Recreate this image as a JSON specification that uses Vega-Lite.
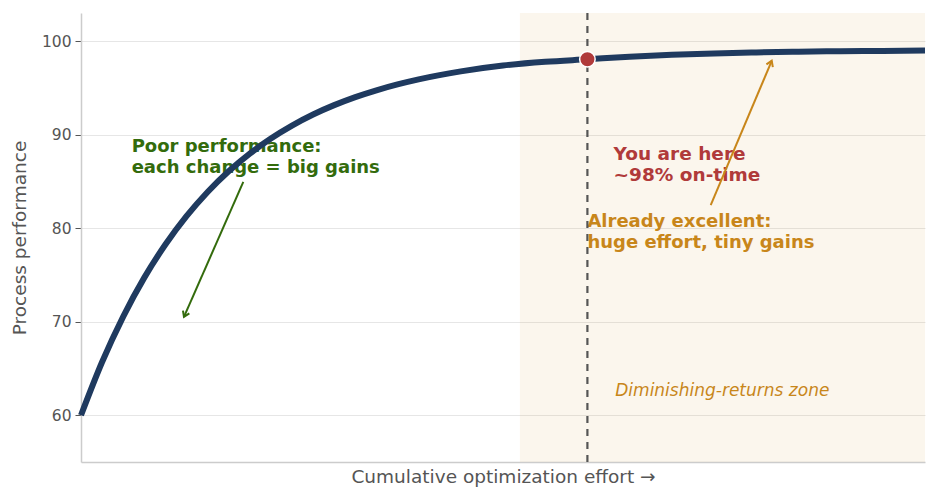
{
  "$schema": "https://vega.github.io/schema/vega-lite/v6.json",
  "width": 844,
  "height": 449,
  "autosize": {"type": "none"},
  "padding": {"left": 81, "top": 13, "right": 13, "bottom": 38},
  "background": "white",
  "config": {
    "font": "DejaVu Sans",
    "view": {"stroke": null},
    "axis": {
      "labelFont": "DejaVu Sans",
      "titleFont": "DejaVu Sans",
      "labelColor": "#555555",
      "titleColor": "#555555",
      "titleFontWeight": "normal",
      "domainColor": "#cccccc",
      "domainWidth": 1.5,
      "tickColor": "#555555",
      "gridColor": "#e6e6e6",
      "gridWidth": 1
    }
  },
  "datasets": {
    "curve": [
      {"effort": 0, "performance": 60.0},
      {"effort": 0.25, "performance": 65.69},
      {"effort": 0.5, "performance": 70.55},
      {"effort": 0.75, "performance": 74.71},
      {"effort": 1.0, "performance": 78.25},
      {"effort": 1.25, "performance": 81.28},
      {"effort": 1.5, "performance": 83.87},
      {"effort": 1.75, "performance": 86.08},
      {"effort": 2.0, "performance": 87.97},
      {"effort": 2.25, "performance": 89.59},
      {"effort": 2.5, "performance": 90.97},
      {"effort": 2.75, "performance": 92.15},
      {"effort": 3.0, "performance": 93.15},
      {"effort": 3.25, "performance": 94.01},
      {"effort": 3.5, "performance": 94.74},
      {"effort": 3.75, "performance": 95.37},
      {"effort": 4.0, "performance": 95.91},
      {"effort": 4.5, "performance": 96.76},
      {"effort": 5.0, "performance": 97.38},
      {"effort": 5.5, "performance": 97.78},
      {"effort": 6.0, "performance": 98.05},
      {"effort": 6.5, "performance": 98.33},
      {"effort": 7.0, "performance": 98.53},
      {"effort": 7.5, "performance": 98.68},
      {"effort": 8.0, "performance": 98.79},
      {"effort": 8.5, "performance": 98.87},
      {"effort": 9.0, "performance": 98.92},
      {"effort": 9.5, "performance": 98.95},
      {"effort": 10.0, "performance": 98.98}
    ],
    "zone": [{"start": 5.2, "end": 10}],
    "current": [{"effort": 6.0, "performance": 98.05}],
    "arrows": [
      {"name": "poor", "x0": 1.923, "y0": 84.95, "x1": 1.22, "y1": 70.51},
      {"name": "excellent", "x0": 7.461, "y0": 82.46, "x1": 8.184, "y1": 97.89}
    ]
  },
  "layer": [
    {
      "data": {"name": "zone"},
      "mark": {"type": "rect", "color": "#c8861a", "opacity": 0.08},
      "encoding": {
        "x": {"field": "start", "type": "quantitative", "scale": {"domain": [0, 10], "nice": false}},
        "x2": {"field": "end"},
        "y": {"datum": 103, "type": "quantitative", "scale": {"domain": [55, 103], "nice": false, "zero": false}},
        "y2": {"datum": 55}
      }
    },
    {
      "data": {"values": [{"effort": 0.6, "performance": 88.13, "label": "Poor performance:\neach change = big gains"}]},
      "mark": {"type": "text", "align": "left", "baseline": "alphabetic", "lineBreak": "\n", "lineHeight": 21, "fontSize": 18, "fontWeight": "bold", "color": "#336b0c"},
      "encoding": {
        "x": {"field": "effort", "type": "quantitative"},
        "y": {"field": "performance", "type": "quantitative"},
        "text": {"field": "label"}
      }
    },
    {
      "data": {"values": [{"effort": 6.31, "performance": 87.27, "label": "You are here\n~98% on-time"}]},
      "mark": {"type": "text", "align": "left", "baseline": "alphabetic", "lineBreak": "\n", "lineHeight": 21, "fontSize": 18.5, "fontWeight": "bold", "color": "#b03a3a"},
      "encoding": {
        "x": {"field": "effort", "type": "quantitative"},
        "y": {"field": "performance", "type": "quantitative"},
        "text": {"field": "label"}
      }
    },
    {
      "data": {"values": [{"effort": 6.0, "performance": 80.14, "label": "Already excellent:\nhuge effort, tiny gains"}]},
      "mark": {"type": "text", "align": "left", "baseline": "alphabetic", "lineBreak": "\n", "lineHeight": 21, "fontSize": 18, "fontWeight": "bold", "color": "#c8861a"},
      "encoding": {
        "x": {"field": "effort", "type": "quantitative"},
        "y": {"field": "performance", "type": "quantitative"},
        "text": {"field": "label"}
      }
    },
    {
      "data": {"values": [{"effort": 6.33, "performance": 62.03, "label": "Diminishing-returns zone"}]},
      "mark": {"type": "text", "align": "left", "baseline": "alphabetic", "fontSize": 17, "fontStyle": "italic", "color": "#c8861a"},
      "encoding": {
        "x": {"field": "effort", "type": "quantitative"},
        "y": {"field": "performance", "type": "quantitative"},
        "text": {"field": "label"}
      }
    },
    {
      "data": {"name": "arrows"},
      "transform": [{"filter": "datum.name === 'poor'"}],
      "layer": [
        {
          "mark": {"type": "rule", "color": "#336b0c", "strokeWidth": 2},
          "encoding": {
            "x": {"field": "x0", "type": "quantitative"},
            "y": {"field": "y0", "type": "quantitative"},
            "x2": {"field": "x1"},
            "y2": {"field": "y1"}
          }
        },
        {
          "mark": {"type": "point", "shape": "M -0.55 0.85 L 0 0 L 0.55 0.85", "filled": false, "color": "#336b0c", "strokeWidth": 2, "size": 160, "angle": 204, "opacity": 1},
          "encoding": {
            "x": {"field": "x1", "type": "quantitative"},
            "y": {"field": "y1", "type": "quantitative"}
          }
        }
      ]
    },
    {
      "data": {"name": "arrows"},
      "transform": [{"filter": "datum.name === 'excellent'"}],
      "layer": [
        {
          "mark": {"type": "rule", "color": "#c8861a", "strokeWidth": 2},
          "encoding": {
            "x": {"field": "x0", "type": "quantitative"},
            "y": {"field": "y0", "type": "quantitative"},
            "x2": {"field": "x1"},
            "y2": {"field": "y1"}
          }
        },
        {
          "mark": {"type": "point", "shape": "M -0.55 0.85 L 0 0 L 0.55 0.85", "filled": false, "color": "#c8861a", "strokeWidth": 2, "size": 160, "angle": 23, "opacity": 1},
          "encoding": {
            "x": {"field": "x1", "type": "quantitative"},
            "y": {"field": "y1", "type": "quantitative"}
          }
        }
      ]
    },
    {
      "data": {"name": "curve"},
      "mark": {"type": "line", "color": "#1f3a5f", "strokeWidth": 6, "strokeCap": "butt", "interpolate": "monotone"},
      "encoding": {
        "x": {
          "field": "effort",
          "type": "quantitative",
          "scale": {"domain": [0, 10], "nice": false, "zero": false},
          "axis": {
            "title": "Cumulative optimization effort →",
            "titleFontSize": 18.5,
            "titlePadding": 5,
            "labels": false,
            "ticks": false,
            "grid": false
          }
        },
        "y": {
          "field": "performance",
          "type": "quantitative",
          "scale": {"domain": [55, 103], "nice": false, "zero": false},
          "axis": {
            "title": "Process performance",
            "titleFontSize": 18.5,
            "titlePadding": 12,
            "labelFontSize": 15.5,
            "values": [60, 70, 80, 90, 100],
            "tickSize": 6,
            "labelPadding": 4,
            "grid": true
          }
        }
      }
    },
    {
      "data": {"name": "current"},
      "mark": {"type": "rule", "color": "#555555", "strokeWidth": 2.2, "strokeDash": [7, 6]},
      "encoding": {
        "x": {"field": "effort", "type": "quantitative"}
      }
    },
    {
      "data": {"name": "current"},
      "mark": {"type": "point", "filled": true, "color": "#b03a3a", "size": 240, "stroke": "white", "strokeWidth": 1.5, "opacity": 1},
      "encoding": {
        "x": {"field": "effort", "type": "quantitative"},
        "y": {"field": "performance", "type": "quantitative"}
      }
    }
  ]
}
